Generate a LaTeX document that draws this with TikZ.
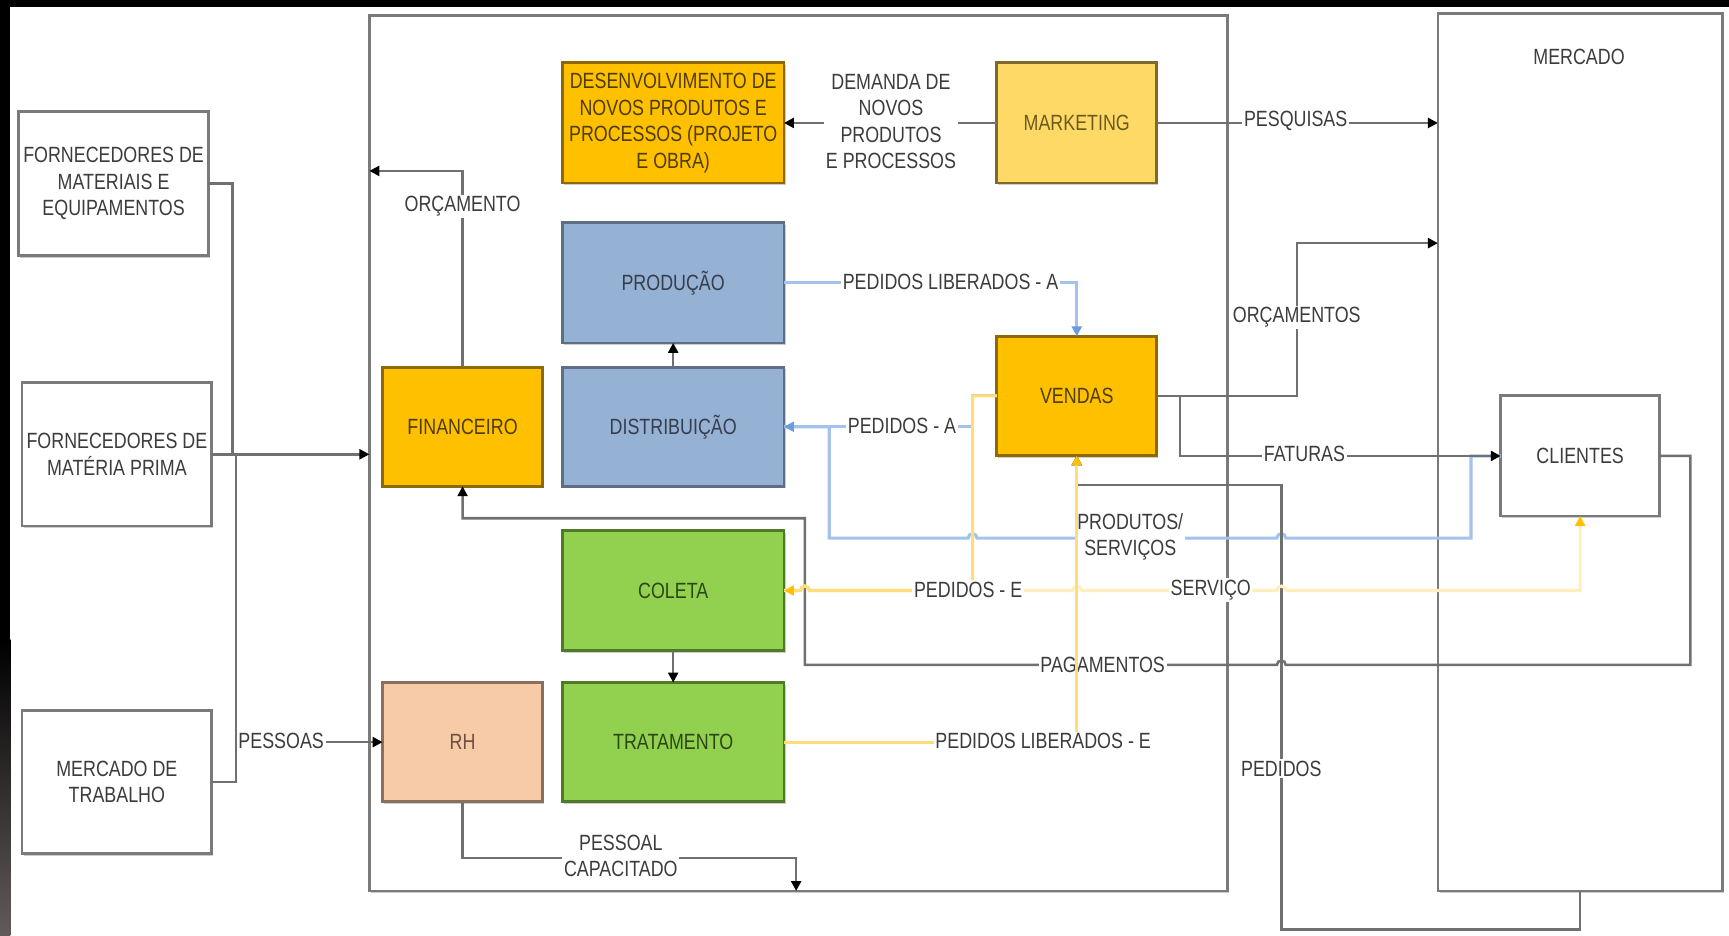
\documentclass[tikz,border=0pt]{standalone}
\usepackage{fontspec}
\setmainfont{Liberation Sans}[FakeStretch=0.81]
\usetikzlibrary{arrows.meta,shadows}

\definecolor{linegray}{HTML}{707070}
\definecolor{txtgray}{HTML}{3C3C3C}
\definecolor{boxline}{HTML}{7A7A7A}
\definecolor{gold}{HTML}{FFC000}
\definecolor{goldline}{HTML}{8C6A00}
\definecolor{goldtext}{HTML}{4F3D00}
\definecolor{mktfill}{HTML}{FFD966}
\definecolor{mktline}{HTML}{7F6A2E}
\definecolor{mkttext}{HTML}{6B5A1E}
\definecolor{bluefill}{HTML}{95B1D3}
\definecolor{blueline}{HTML}{5E6E84}
\definecolor{bluetext}{HTML}{363E4E}
\definecolor{greenfill}{HTML}{92D050}
\definecolor{greenline}{HTML}{4F7A2A}
\definecolor{greentext}{HTML}{2C4716}
\definecolor{rhfill}{HTML}{F8CBA8}
\definecolor{rhline}{HTML}{8A6E5E}
\definecolor{rhtext}{HTML}{6E5040}
\definecolor{flowblue}{HTML}{A3C2EC}
\definecolor{flowbluetip}{HTML}{6C9CE0}
\definecolor{flowyel}{HTML}{FFDE7A}
\definecolor{flowyelpale}{HTML}{FFEFBF}
\definecolor{flowyeltip}{HTML}{FFC000}
\definecolor{stripgray}{HTML}{625A5A}

\begin{document}
\begin{tikzpicture}[x=1pt,y=-1pt,
  txt/.style={font=\fontsize{20}{24}\selectfont, align=center},
  boxbase/.style={txt, draw, line width=2.5pt, inner sep=2pt, outer sep=0pt,
    drop shadow={shadow xshift=1.5pt,shadow yshift=-2pt,opacity=0.2,fill=black}},
  plainbox/.style={boxbase, draw=boxline, fill=white, text=txtgray},
  goldbox/.style={boxbase, draw=goldline, fill=gold, text=goldtext},
  mktbox/.style={boxbase, draw=mktline, fill=mktfill, text=mkttext},
  bluebox/.style={boxbase, draw=blueline, fill=bluefill, text=bluetext},
  greenbox/.style={boxbase, draw=greenline, fill=greenfill, text=greentext},
  rhbox/.style={boxbase, draw=rhline, fill=rhfill, text=rhtext},
  widebox/.style={minimum width=201pt, minimum height=109pt},
  narrowbox/.style={minimum width=145pt, minimum height=108pt},
  sidebox/.style={minimum width=172pt, minimum height=130pt},
  lbl/.style={txt, fill=white, text=txtgray, inner sep=1.5pt},
  conn/.style={draw=linegray, line width=2.3pt},
  bflow/.style={draw=flowblue, line width=2.8pt},
  yflow/.style={draw=flowyel, line width=2.8pt},
  ypale/.style={draw=flowyelpale, line width=2.8pt},
  tipk/.style={-{Triangle[length=9pt,width=9pt,color=black]}},
  tipb/.style={-{Triangle[length=9pt,width=9pt,color=flowbluetip]}},
  tipy/.style={-{Triangle[length=9pt,width=9pt,color=flowyeltip]}}
]
\useasboundingbox (0,0) rectangle (1568,848);
\fill[white] (0,0) rectangle (1568,848);

% dark strips along the top and left edges
\fill[black] (0,0) rectangle (1568,6.5);
\fill[black] (0,0) rectangle (9.5,580);
\shade[top color=black, bottom color=stripgray] (0,580) rectangle (9.5,848);

% the company and the market
\node[plainbox, minimum width=778pt, minimum height=794pt] (main) at (724,411) {};
\node[plainbox, minimum width=258pt, minimum height=796pt] (merc) at (1433,410) {};
\node[txt, text=txtgray] (merclbl) at (1432,52) {MERCADO};

% suppliers and labour market
\node[plainbox, minimum width=172pt, minimum height=131pt] (fmat) at (103,166.5) {FORNECEDORES DE\\MATERIAIS E\\EQUIPAMENTOS};
\node[plainbox, sidebox] (fmp) at (106,412) {FORNECEDORES DE\\MATÉRIA PRIMA};
\node[plainbox, sidebox] (mt) at (106,709) {MERCADO DE\\TRABALHO};

% departments
\node[goldbox, widebox] (dev) at (610.5,111.5) {DESENVOLVIMENTO DE\\NOVOS PRODUTOS E\\PROCESSOS (PROJETO\\E OBRA)};
\node[mktbox, minimum width=145pt, minimum height=109pt] (mkt) at (976.5,111.5) {MARKETING};
\node[bluebox, widebox] (prod) at (610.5,256.5) {PRODUÇÃO};
\node[bluebox, minimum width=201pt, minimum height=108pt] (dist) at (610.5,387) {DISTRIBUIÇÃO};
\node[goldbox, narrowbox] (fin) at (419.5,387) {FINANCEIRO};
\node[goldbox, narrowbox] (vend) at (976.5,359) {VENDAS};
\node[greenbox, widebox] (col) at (610.5,535.5) {COLETA};
\node[greenbox, minimum width=201pt, minimum height=108pt] (trat) at (610.5,673) {TRATAMENTO};
\node[rhbox, narrowbox] (rh) at (419.5,673) {RH};
\node[plainbox, minimum width=144pt, minimum height=109pt] (cli) at (1433,413.5) {CLIENTES};

% inputs from the left
\coordinate (jf) at (211,412);
\coordinate (jt) at (214,412);
\draw[conn] (fmat.east) -| (jf);
\draw[conn] (mt.east) -| (jt);
\draw[conn,tipk] (fmp.east) -- (fmp.east -| main.west);
\draw[conn,tipk] (mt.east) -- ++(22,0) |- (rh.west);
\node[lbl] (pslbl) at (255,672) {PESSOAS};

% budget
\coordinate (orc) at (419.5,155);
\draw[conn,tipk] (fin.north) -- (orc) -- (orc -| main.west);
\node[lbl] (orclbl) at (419.5,187) {ORÇAMENTO};

% marketing
\draw[conn,tipk] (mkt.west) -- (dev.east);
\node[lbl] (demlbl) at (808,110) {DEMANDA DE\\NOVOS\\PRODUTOS\\E PROCESSOS};
\draw[conn,tipk] (mkt.east) -- (mkt.east -| merc.west);
\node[lbl] (pqlbl) at (1175,110) {PESQUISAS};

% internal flow
\draw[conn,tipk] (dist.north) -- (prod.south);
\draw[conn,tipk] (col.south) -- (trat.north);

% quotes to the market
\coordinate (oc) at (1176,220.5);
\draw[conn,tipk] (vend.east) -| (oc) -- (oc -| merc.west);
\node[lbl] (oclbl) at (1176,288) {ORÇAMENTOS};

% products and services delivered to customers
\draw[bflow] (dist.east) -- (752,387) -- (752,488) -- (878,488)
  arc[start angle=180,end angle=0,radius=4pt] -- (1158,488)
  arc[start angle=180,end angle=0,radius=4pt] -- (1334,488) -- (1334,413.5) -- (cli.west);
\node[lbl] (pslbl2) at (1025,487) {PRODUTOS/\\SERVIÇOS};

% invoices
\draw[conn,tipk] (vend.east) -- ++(21,0) |- (cli.west);
\node[lbl] (fatlbl) at (1183,412) {FATURAS};

% orders from the market
\coordinate (pd1) at (1162,843);
\coordinate (pd2) at (1162,440);
\draw[conn,tipk] (merc.south) |- (pd1) -- (pd2) -| (vend.south);
\node[lbl] (pdlbl) at (1162,697) {PEDIDOS};

% payments
\draw[conn,tipk] (cli.east) -- (1533,413.5) -- (1533,603) -- (1166,603)
  arc[start angle=0,end angle=180,radius=4pt] -- (730,603) -- (730,470) -- (419.5,470) -- (fin.south);
\node[lbl] (paglbl) at (1000,603) {PAGAMENTOS};

% orders A
\draw[bflow,tipb] (prod.east) -| (vend.north);
\node[lbl] (plalbl) at (862,256) {PEDIDOS LIBERADOS - A};
\draw[bflow,tipb] (vend.west) -- ++(-22,0) |- (dist.east);
\node[lbl] (palbl) at (818,386) {PEDIDOS - A};

% service to customers
\draw[ypale,tipy] (col.east) -- (726,535.5)
  arc[start angle=180,end angle=0,radius=4pt] -- (973,535.5)
  arc[start angle=180,end angle=0,radius=4pt] -- (1158,535.5)
  arc[start angle=180,end angle=0,radius=4pt] -- (1433,535.5) -- (cli.south);
\node[lbl] (svlbl) at (1098,535) {SERVIÇO};

% orders E
\draw[yflow,tipy] (vend.west) -- ++(-22,0) -- (882,535.5) -- (734,535.5)
  arc[start angle=0,end angle=180,radius=4pt] -- (col.east);
\node[lbl] (pelbl) at (878,535) {PEDIDOS - E};
\draw[yflow,tipy] (trat.east) -| (vend.south);
\node[lbl] (plelbl) at (946,672) {PEDIDOS LIBERADOS - E};

% trained staff
\coordinate (pc) at (722,778);
\draw[conn,tipk] (rh.south) |- (pc) -- (pc |- main.south);
\node[lbl] (pclbl) at (563,776) {PESSOAL\\CAPACITADO};
\end{tikzpicture}
\end{document}
